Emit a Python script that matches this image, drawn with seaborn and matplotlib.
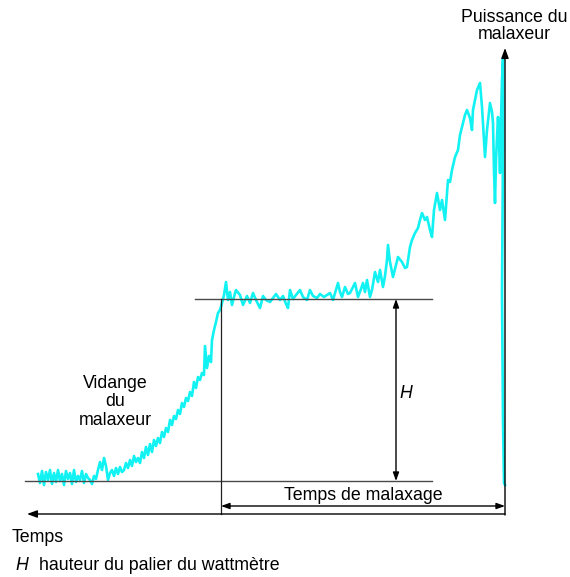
import numpy as np
import pandas as pd
import matplotlib
matplotlib.use("Agg")
import matplotlib.pyplot as plt
import seaborn as sns

# courbe de puissance du malaxeur (coordonnées du dessin)
x_puissance = [38, 40, 42, 44, 46, 48, 50, 52, 54, 56, 58, 60, 62, 64, 66, 68, 70, 72, 74, 76,
               78, 80, 82, 84, 86, 88, 90, 92, 94, 96, 98,
               100, 102, 104, 106, 108, 110, 112, 114, 116, 118, 120, 122, 124, 126, 128, 130,
               132, 134, 136, 138, 140, 142, 144, 146, 148, 150, 152, 154, 156, 158, 160, 162,
               164, 166, 168, 170, 172, 174, 176, 178, 180, 182, 184, 186, 188, 190, 192, 194,
               196, 198, 200, 202, 204, 205, 207, 209, 211, 212, 214, 216, 218, 220, 222, 224,
               226, 228, 230, 232, 234,
               236, 240, 243, 247, 250, 253, 256, 260, 263, 266, 270, 273, 276, 280, 283, 286,
               288, 290, 293, 296, 300, 303, 307, 310, 313, 317, 320, 324, 327, 330, 333, 336,
               338, 340, 342, 345, 348, 350, 353, 355, 358, 361, 363, 365, 367, 370, 372, 375,
               378, 380, 383, 385, 387, 388, 390, 393, 396, 398, 402, 405, 407, 410, 412, 415,
               418, 420, 422, 425, 427, 430, 432, 434, 437, 440, 442, 445, 448, 450, 452, 455,
               458, 460, 462, 465, 467, 470, 472, 473, 475, 477, 480, 482, 484, 485, 487, 490,
               492, 493, 494, 495, 496, 498, 499, 500, 501, 502, 503, 503, 502, 503, 504, 505]
y_puissance = [474, 483, 471, 485, 472, 480, 470, 484, 473, 482, 470, 481, 474, 485, 471, 479,
               473, 484, 470, 482, 476, 480, 471, 483, 474, 478, 480, 484, 476, 479, 470,
               462, 470, 458, 466, 480, 473, 470, 476, 468, 474, 467, 472, 470, 463, 468, 460,
               466, 456, 462, 458, 463, 452, 458, 447, 455, 444, 452, 440, 446, 438, 443, 432,
               437, 428, 432, 420, 425, 416, 419, 410, 414, 403, 407, 398, 401, 392, 396, 382,
               388, 377, 380, 373, 375, 346, 368, 356, 362, 340, 330, 322, 313, 310, 303, 295,
               282, 300, 292, 305, 297,
               290, 295, 305, 296, 303, 293, 300, 308, 296, 300, 302, 298, 294, 300, 296, 304,
               308, 290, 299, 295, 290, 297, 300, 290, 296, 298, 294, 297, 295, 293, 300, 290,
               283, 292, 297, 287, 294, 293, 287, 283, 297, 289, 283, 292, 280, 297, 290, 272,
               282, 270, 287, 276, 260, 245, 262, 277, 265, 257, 262, 268, 267, 247, 240, 233,
               228, 220, 213, 220, 217, 230, 237, 210, 193, 210, 200, 220, 180, 182, 170, 157,
               150, 135, 127, 115, 110, 118, 130, 110, 100, 90, 83, 107, 140, 157, 130, 103,
               112, 123, 170, 203, 160, 117, 140, 173, 120, 80, 58, 150, 293, 420, 483, 485]

df = pd.DataFrame({"t": x_puissance, "p": y_puissance})

fig = plt.figure(figsize=(5.7, 5.77), dpi=100)
ax = fig.add_axes([0, 0, 1, 1])
sns.lineplot(data=df, x="t", y="p", sort=False, estimator=None, color="#12f2f2",
             linewidth=1.9, ax=ax)
ax.set_xlim(0, 570)
ax.set_ylim(577, 0)
ax.axis("off")

plt.rcParams["font.family"] = ["Liberation Sans", "DejaVu Sans"]
fs = 12.8
gris = "#4a4a4a"

# niveaux horizontaux
ax.plot([25, 432], [481, 481], color=gris, lw=1)
ax.plot([195, 432], [299, 299], color=gris, lw=1)
ax.plot([221, 221], [299, 514], color="#222222", lw=0.9)

# axes du graphe
fleche = dict(arrowstyle="-|>,head_length=0.6,head_width=0.22", color="black", lw=1,
              shrinkA=0, shrinkB=0)
ax.annotate("", xy=(27, 514), xytext=(505, 514), arrowprops=fleche)
ax.annotate("", xy=(505, 48), xytext=(505, 515), arrowprops=fleche)

double = dict(arrowstyle="<|-|>,head_length=0.5,head_width=0.18", color="black", lw=1,
              shrinkA=0, shrinkB=0)
ax.annotate("", xy=(396, 299), xytext=(396, 481), arrowprops=double)
ax.annotate("", xy=(221, 506), xytext=(505, 506), arrowprops=double)

ax.text(514, 26, "Puissance du\nmalaxeur", ha="center", va="center", fontsize=fs,
        linespacing=1.0)
ax.text(115, 402, "Vidange\ndu\nmalaxeur", ha="center", va="center", fontsize=fs,
        linespacing=1.1)
ax.text(406, 393, "H", ha="center", va="center", fontsize=fs, style="italic")
ax.text(363, 495, "Temps de malaxage", ha="center", va="center", fontsize=fs)
ax.text(12, 538, "Temps", ha="left", va="center", fontsize=fs)
ax.text(15, 566, "H", ha="left", va="center", fontsize=fs, style="italic")
ax.text(39, 566, "hauteur du palier du wattmètre", ha="left", va="center", fontsize=fs)

fig.savefig("out.png", dpi=100)
